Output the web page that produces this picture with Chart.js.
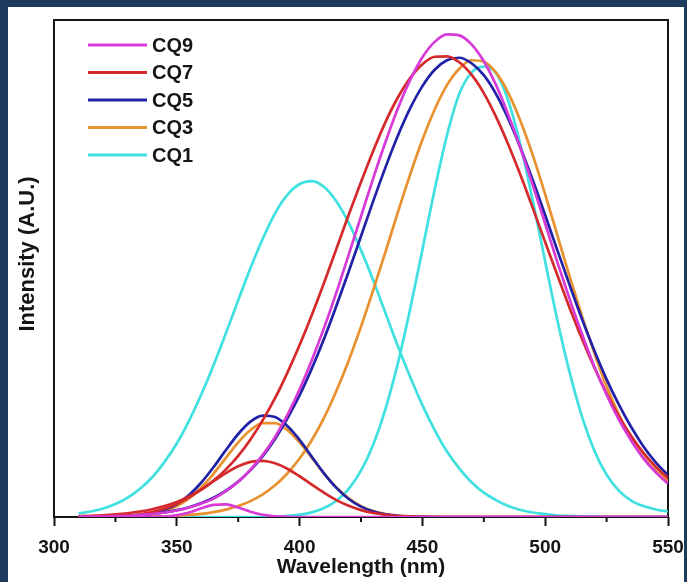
<!DOCTYPE html>
<html>
<head>
<meta charset="utf-8">
<script src="https://cdn.jsdelivr.net/npm/chart.js@4.4.1/dist/chart.umd.min.js"></script>
<style>
  html, body { margin: 0; padding: 0; }
  body { width: 687px; height: 582px; background: #1d3b5c; position: relative; overflow: hidden; }
  #panel { position: absolute; left: 8px; top: 7px; width: 676px; height: 575px; background: #fff; }
  #pl { position: absolute; left: 8px; top: 7px; }
</style>
</head>
<body>
<div id="panel"></div>
<canvas id="pl" width="679" height="575"></canvas>
<script>
const wavelengths = [310, 315, 320, 325, 330, 335, 340, 345, 350, 355, 360, 365, 370, 375, 380, 385, 390,
  395, 400, 405, 410, 415, 420, 425, 430, 435, 440, 445, 450, 455, 460, 465, 470, 475, 480, 485, 490,
  495, 500, 505, 510, 515, 520, 525, 530, 535, 540, 545, 550];

// main band (450-480 nm) and side band (370-405 nm) for each sample
const cq9Main = [0.0, 0.1, 0.1, 0.2, 0.2, 0.4, 0.6, 0.9, 1.3, 1.9, 2.7, 3.7, 5.2, 7.1, 9.5, 12.5, 16.1,
  20.5, 25.7, 31.6, 38.1, 45.2, 52.8, 60.5, 68.2, 75.5, 82.2, 87.9, 92.5, 95.6, 97.1, 96.9, 95.1,
  91.7, 86.9, 80.9, 74.1, 66.7, 59.0, 51.2, 43.8, 36.8, 30.3, 24.6, 19.6, 15.4, 11.8, 9.0, 6.7];
const cq9Side = [0, 0, 0, 0, 0, 0, 0, 0.1, 0.35, 0.9, 1.75, 2.45, 2.55, 1.9, 1.05, 0.45, 0.15, 0.05,
  0, 0, 0, 0, 0, 0, 0, 0, 0, 0, 0, 0, 0, 0, 0, 0, 0, 0, 0, 0, 0, 0, 0, 0, 0, 0, 0, 0, 0, 0, 0];

const cq7Main = [0.15, 0.23, 0.35, 0.52, 0.76, 1.1, 1.57, 2.2, 3.03, 4.14, 5.56, 7.35, 9.59, 12.3, 15.6,
  19.5, 23.9, 29.0, 34.6, 40.7, 47.2, 54.0, 60.8, 67.4, 73.7, 79.5, 84.4, 88.3, 91.1, 92.6, 92.7,
  91.5, 89.0, 85.3, 80.5, 74.9, 68.7, 62.1, 55.3, 48.6, 42.0, 35.8, 30.1, 24.9, 20.3, 16.3, 12.9, 10.1, 7.8];
const cq7Side = [0.01, 0.03, 0.07, 0.15, 0.3, 0.56, 1.0, 1.69, 2.66, 3.95, 5.5, 7.2, 8.84, 10.2, 11.08,
  11.3, 10.8, 9.71, 8.2, 6.51, 4.85, 3.4, 2.24, 1.38, 0.8, 0.44, 0.2, 0.1, 0.04,
  0, 0, 0, 0, 0, 0, 0, 0, 0, 0, 0, 0, 0, 0, 0, 0, 0, 0, 0, 0];

const cq5Main = [0.04, 0.07, 0.11, 0.18, 0.28, 0.42, 0.64, 0.94, 1.38, 1.97, 2.79, 3.87, 5.29, 7.12, 9.42,
  12.25, 15.7, 19.8, 24.5, 29.9, 35.9, 42.5, 49.4, 56.5, 63.6, 70.4, 76.7, 82.2, 86.7, 90.0, 91.9,
  92.4, 91.3, 88.9, 85.1, 80.1, 74.2, 67.7, 60.7, 53.6, 46.6, 39.8, 33.5, 27.7, 22.6, 18.1, 14.2, 11.0, 8.4];
const cq5Side = [0, 0.01, 0.02, 0.06, 0.15, 0.34, 0.73, 1.44, 2.62, 4.43, 6.94, 10.05, 13.47, 16.7, 19.2,
  20.4, 20.1, 18.3, 15.5, 12.1, 8.74, 5.85, 3.63, 2.08, 1.1, 0.54, 0.25, 0.1, 0.04,
  0, 0, 0, 0, 0, 0, 0, 0, 0, 0, 0, 0, 0, 0, 0, 0, 0, 0, 0, 0];

const cq3Main = [0, 0, 0, 0.01, 0.03, 0.05, 0.09, 0.15, 0.25, 0.4, 0.63, 0.98, 1.48, 2.2, 3.2, 4.57,
  6.38, 8.76, 11.76, 15.5, 20.0, 25.4, 31.5, 38.3, 45.7, 53.4, 61.3, 68.9, 75.9, 82.0, 86.9, 90.2,
  91.9, 91.6, 89.4, 85.3, 79.6, 72.7, 64.9, 56.6, 48.3, 40.4, 33.0, 26.3, 20.6, 15.8, 12.0, 9.3, 7.2];
const cq3Side = [0, 0.01, 0.02, 0.05, 0.12, 0.27, 0.59, 1.18, 2.18, 3.74, 5.95, 8.74, 11.9, 15.0, 17.5,
  18.9, 18.9, 17.5, 15.0, 11.9, 8.74, 5.95, 3.74, 2.18, 1.18, 0.59, 0.27, 0.12, 0.05, 0.02,
  0, 0, 0, 0, 0, 0, 0, 0, 0, 0, 0, 0, 0, 0, 0, 0, 0, 0, 0];

const cq1Main = [0, 0, 0, 0, 0, 0, 0, 0, 0, 0, 0, 0, 0, 0, 0, 0, 0, 0.22, 0.47, 0.94, 1.8, 3.27, 5.66,
  9.32, 14.6, 21.8, 30.9, 41.8, 53.8, 65.9, 76.8, 85.1, 89.4, 90.6, 89.3, 83.7, 74.7, 63.5, 51.4,
  39.5, 29.0, 20.2, 13.4, 8.5, 5.3, 3.3, 2.2, 1.5, 1.1];
const cq1Side = [0.7, 1.1, 1.7, 2.6, 3.9, 5.7, 8.0, 11.1, 14.8, 19.4, 24.7, 30.6, 37.0, 43.6, 50.1,
  56.0, 61.1, 64.8, 67.0, 67.6, 66.4, 63.5, 59.2, 53.7, 47.6, 41.0, 34.4, 28.2, 22.5, 17.5, 13.2,
  9.8, 7.0, 4.9, 3.4, 2.2, 1.4, 0.9, 0.6, 0.3, 0.2, 0.1, 0.1, 0, 0, 0, 0, 0, 0];

const SERIES = [
  { label: 'CQ9', color: '#d83ad8', main: cq9Main, side: cq9Side },
  { label: 'CQ7', color: '#d42a2c', main: cq7Main, side: cq7Side },
  { label: 'CQ5', color: '#2222a8', main: cq5Main, side: cq5Side },
  { label: 'CQ3', color: '#e8912e', main: cq3Main, side: cq3Side },
  { label: 'CQ1', color: '#40e0e0', main: cq1Main, side: cq1Side },
];

const FONT = '"Liberation Sans", Arial, sans-serif';
const INK = '#151515';

const pts = ys => wavelengths.map((w, i) => ({ x: w, y: ys[i] }));

const datasets = [];
SERIES.forEach(s => {
  datasets.push({ label: s.label, data: pts(s.main), borderColor: s.color, inLegend: true });
  datasets.push({ label: s.label, data: pts(s.side), borderColor: s.color });
});

// box frame, short minor ticks, y title and the in-plot legend
const decor = {
  id: 'decor',
  beforeDatasetsDraw(chart) {
    const { ctx, chartArea: a, scales: { x } } = chart;
    ctx.save();
    ctx.strokeStyle = INK;
    ctx.lineWidth = 2;
    ctx.strokeRect(a.left, a.top, a.right - a.left, a.bottom - a.top);
    x.ticks.forEach(t => {
      if (t.value % 50 === 0) return;
      const px = x.getPixelForValue(t.value);
      ctx.beginPath();
      ctx.moveTo(px, a.bottom);
      ctx.lineTo(px, a.bottom + 5);
      ctx.stroke();
    });
    ctx.translate(20, 247);
    ctx.rotate(-Math.PI / 2);
    ctx.fillStyle = INK;
    ctx.font = 'bold 22px ' + FONT;
    ctx.textAlign = 'center';
    ctx.textBaseline = 'middle';
    ctx.fillText('Intensity (A.U.)', 0, 0);
    ctx.restore();
  },
  afterDatasetsDraw(chart) {
    const { ctx, chartArea: a } = chart;
    const x0 = a.left + 34, y0 = a.top + 25;
    ctx.save();
    ctx.font = 'bold 20px ' + FONT;
    ctx.textBaseline = 'middle';
    ctx.lineWidth = 3;
    let row = 0;
    chart.data.datasets.forEach(ds => {
      if (!ds.inLegend) return;
      const y = y0 + row * 27.5;
      ctx.strokeStyle = ds.borderColor;
      ctx.beginPath();
      ctx.moveTo(x0, y);
      ctx.lineTo(x0 + 59, y);
      ctx.stroke();
      ctx.fillStyle = INK;
      ctx.fillText(ds.label, x0 + 64, y + 1);
      row++;
    });
    ctx.restore();
  }
};

new Chart(document.getElementById('pl'), {
  type: 'line',
  data: { datasets },
  plugins: [decor],
  options: {
    responsive: false,
    animation: false,
    layout: { padding: { left: 46, right: 19, top: 13, bottom: 0 } },
    elements: {
      point: { radius: 0 },
      line: { borderWidth: 2.7, cubicInterpolationMode: 'monotone', fill: false },
    },
    plugins: { legend: { display: false }, tooltip: { enabled: false } },
    scales: {
      x: {
        type: 'linear', min: 300, max: 550,
        ticks: {
          stepSize: 25, autoSkip: false, maxRotation: 0, padding: 10, color: INK,
          font: { family: FONT, size: 19, weight: 'bold' },
          callback: v => (v % 50 === 0 ? v : ''),
        },
        grid: {
          drawOnChartArea: false, drawTicks: true, tickLength: 9, tickWidth: 2,
          tickColor: c => (c.tick && c.tick.value % 50 === 0 ? INK : 'rgba(0,0,0,0)'),
        },
        border: { display: false },
        title: {
          display: true, text: 'Wavelength (nm)', color: INK,
          font: { family: FONT, size: 21, weight: 'bold' },
          padding: { top: 0, bottom: 2 },
        },
        afterFit: s => { s.height = 65; s.paddingLeft = 0; s.paddingRight = 0; },
      },
      y: { display: false, min: 0, max: 100 },
    },
  },
});
</script>
</body>
</html>
